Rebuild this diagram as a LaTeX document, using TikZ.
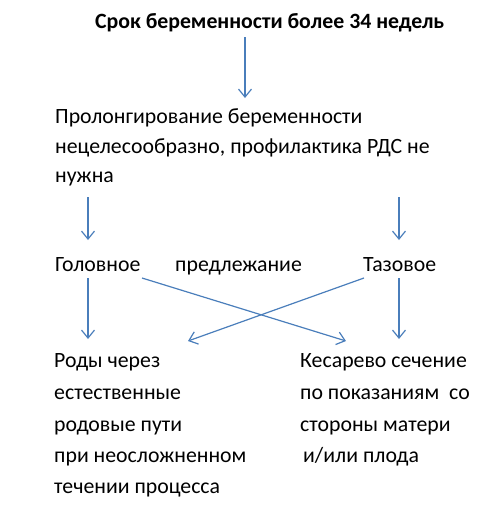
\documentclass[tikz,border=0pt]{standalone}
\usepackage{fontspec}
\setmainfont{Carlito}
\usetikzlibrary{arrows.meta}
\definecolor{ln}{HTML}{4A7EBB}
\begin{document}
\begin{tikzpicture}[x=1pt,y=-1pt,
  txt/.style={anchor=base west,inner sep=0pt,font=\fontsize{21.8}{26}\selectfont},
  ttl/.style={anchor=base west,inner sep=0pt,font=\bfseries\fontsize{21.8}{26}\selectfont},
  arr/.style={draw=ln,line width=1.2pt,-{Straight Barb[length=8pt,width=13pt]}}]
\useasboundingbox (0,0) rectangle (500,512);
% texts
\node[ttl] (title) at (95,28) {Срок беременности более 34 недель};
\node[txt] (p1) at (55,123) {Пролонгирование беременности};
\node[txt] (p2) at (55,153) {нецелесообразно, профилактика РДС не};
\node[txt] (p3) at (55,182) {нужна};
\node[txt] (head) at (55,271) {Головное};
\node[txt] (pred) at (175,271) {предлежание};
\node[txt] (breech) at (363,271) {Тазовое};
\node[txt] (l1) at (54,367) {Роды через};
\node[txt] (l2) at (54,399) {естественные};
\node[txt] (l3) at (54,431) {родовые пути};
\node[txt] (l4) at (54,462) {при неосложненном};
\node[txt] (l5) at (54,493) {течении процесса};
\node[txt] (r1) at (300,367) {Кесарево сечение};
\node[txt] (r2) at (300,399) {по показаниям\ \ со};
\node[txt] (r3) at (300,431) {стороны матери};
\node[txt] (r4) at (303,462) {и/или плода};
% arrow ends
\coordinate (a0s) at (245,37);  \coordinate (a0e) at (245,98);
\coordinate (aLs) at (88,197);  \coordinate (aLe) at (88,240);
\coordinate (aRs) at (399,197); \coordinate (aRe) at (399,240);
\coordinate (bLs) at (88,278);  \coordinate (bLe) at (88,339);
\coordinate (bRs) at (399,278); \coordinate (bRe) at (399,339);
\coordinate (cAs) at (142,278); \coordinate (cAe) at (346,341);
\coordinate (cBs) at (364,278); \coordinate (cBe) at (188,341);
\draw[arr] (a0s) -- (a0e);
\draw[arr] (aLs) -- (aLe);
\draw[arr] (aRs) -- (aRe);
\draw[arr] (bLs) -- (bLe);
\draw[arr] (bRs) -- (bRe);
\draw[arr] (cAs) -- (cAe);
\draw[arr] (cBs) -- (cBe);
\end{tikzpicture}
\end{document}
